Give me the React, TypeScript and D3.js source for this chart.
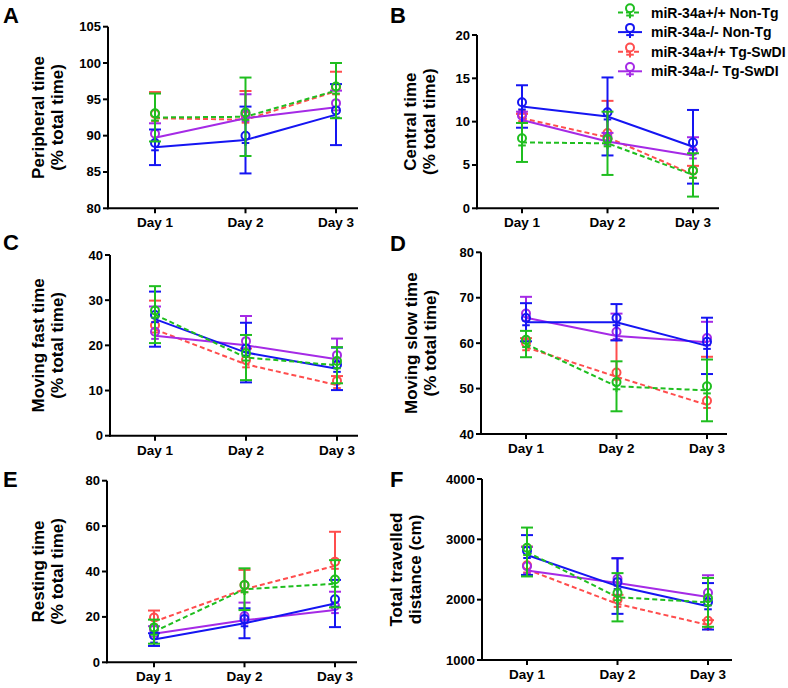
import * as d3 from 'd3';

// Open-field measures over three test days, four genotype groups (mean ± error)
const DAYS = ['Day 1', 'Day 2', 'Day 3'];
const GROUPS = ['miR-34a+/+ Non-Tg', 'miR-34a-/- Non-Tg', 'miR-34a+/+ Tg-SwDI', 'miR-34a-/- Tg-SwDI'];

// rows follow GROUPS, columns follow DAYS
const peripheralMean = [[92.5, 92.6, 96.2], [88.4, 89.4, 92.9], [92.4, 92.2, 96.1], [89.7, 92.4, 93.9]];
const peripheralErr = [[3.3, 5.4, 3.8], [2.45, 4.6, 4.2], [3.6, 3.95, 2.7], [2.0, 3.3, 2.3]];

const centralMean = [[7.6, 7.5, 3.85], [11.75, 10.6, 7.1], [10.4, 8.2, 3.9], [10.2, 7.7, 6.1]];
const centralErr = [[2.25, 3.65, 2.5], [2.45, 4.5, 4.25], [0.5, 4.2, 1.0], [0.95, 1.0, 2.1]];

const fastMean = [[26.8, 17.3, 15.6], [25.8, 18.4, 14.8], [23.5, 15.8, 11.2], [22.1, 20.0, 16.9]];
const fastErr = [[6.3, 5.0, 4.0], [6.1, 6.6, 4.7], [6.4, 3.5, 2.0], [6.5, 6.5, 4.6]];

const slowMean = [[59.8, 50.5, 49.6], [64.6, 64.6, 59.4], [59.1, 52.6, 46.4], [65.6, 61.6, 60.2]];
const slowErr = [[2.9, 5.5, 6.8], [4.2, 4.0, 6.2], [2.0, 8.1, 10.6], [4.6, 4.9, 4.5]];

const restMean = [[13.5, 32.2, 34.6], [10.0, 17.2, 25.9], [17.9, 32.2, 42.5], [12.6, 18.5, 23.0]];
const restErr = [[5.3, 9.2, 10.4], [2.8, 6.6, 10.4], [4.9, 8.5, 15.0], [3.3, 7.8, 8.1]];

const distMean = [[2790, 2040, 1955], [2740, 2225, 1890], [2500, 1930, 1580], [2485, 2278, 2045]];
const distErr = [[405, 400, 405], [330, 460, 385], [380, 150, 80], [390, 410, 360]];

const COLORS = ['#1fbe1f', '#1515f2', '#ff4d4d', '#a52ae6'];
const DASHED = [true, false, true, false];
// Tg-SwDI groups only show the upper half of the error bar
const BOTH_SIDES = [true, true, false, false];
// draw order: red, purple, blue, green on top
const DRAW_ORDER = [2, 3, 1, 0];

const FONT = '"Liberation Sans", Arial, Helvetica, sans-serif';

interface PanelCfg {
  letter: string;
  title: string[];
  mean: number[][];
  err: number[][];
  domain: [number, number];
  step: number;
  x0: number;
  x1: number;
  yTop: number;
  yBot: number;
  dayStart: number;
  dayEnd: number;
  titleX: number;
  letterX: number;
  letterY: number;
}

const panels: PanelCfg[] = [
  { letter: 'A', title: ['Peripheral time', '(% total time)'], mean: peripheralMean, err: peripheralErr,
    domain: [80, 105], step: 5, x0: 108, x1: 358, yTop: 26.7, yBot: 208.3, dayStart: 155, dayEnd: 336,
    titleX: 38, letterX: 3, letterY: 23 },
  { letter: 'B', title: ['Central time', '(% total time)'], mean: centralMean, err: centralErr,
    domain: [0, 20], step: 5, x0: 477, x1: 719, yTop: 35, yBot: 208.3, dayStart: 522, dayEnd: 693,
    titleX: 410, letterX: 390, letterY: 23 },
  { letter: 'C', title: ['Moving fast time', '(% total time)'], mean: fastMean, err: fastErr,
    domain: [0, 40], step: 10, x0: 110, x1: 358, yTop: 255, yBot: 435.7, dayStart: 155, dayEnd: 337,
    titleX: 38, letterX: 3, letterY: 250 },
  { letter: 'D', title: ['Moving slow time', '(% total time)'], mean: slowMean, err: slowErr,
    domain: [40, 80], step: 10, x0: 481, x1: 727, yTop: 252.3, yBot: 434, dayStart: 526, dayEnd: 707,
    titleX: 411, letterX: 390, letterY: 251 },
  { letter: 'E', title: ['Resting time', '(% total time)'], mean: restMean, err: restErr,
    domain: [0, 80], step: 20, x0: 107, x1: 357, yTop: 480.7, yBot: 662.3, dayStart: 154, dayEnd: 335,
    titleX: 38, letterX: 3, letterY: 487 },
  { letter: 'F', title: ['Total travelled', 'distance (cm)'], mean: distMean, err: distErr,
    domain: [1000, 4000], step: 1000, x0: 482, x1: 732, yTop: 479, yBot: 660, dayStart: 527, dayEnd: 708,
    titleX: 396, letterX: 390, letterY: 487 },
];

// "♀"-style marker: open circle sitting above the data point, cross below it
function Marker({ x, y, color }: { x: number; y: number; color: string }) {
  return (
    <g stroke={color} strokeWidth={2} fill="none">
      <circle cx={x} cy={y - 4.2} r={4} />
      <line x1={x} x2={x} y1={y - 0.2} y2={y + 5.8} />
      <line x1={x - 3.8} x2={x + 3.8} y1={y + 3} y2={y + 3} />
    </g>
  );
}

function Panel({ p }: { p: PanelCfg }) {
  const x = d3.scalePoint<string>().domain(DAYS).range([p.dayStart, p.dayEnd]);
  const y = d3.scaleLinear().domain(p.domain).range([p.yBot, p.yTop]);
  const ticks = d3.range(p.domain[0], p.domain[1] + p.step / 2, p.step);
  const line = d3
    .line<number>()
    .x((_, i) => x(DAYS[i]) as number)
    .y((v) => y(v));
  const cy = (p.yTop + p.yBot) / 2;
  const cap = 6;

  return (
    <g fontFamily={FONT} fontWeight="bold">
      <text x={p.letterX} y={p.letterY} fontSize={22}>{p.letter}</text>
      {p.title.map((t, i) => (
        <text
          key={t}
          transform={`translate(${p.titleX + i * 19},${cy}) rotate(-90)`}
          textAnchor="middle"
          dominantBaseline="central"
          fontSize={17}
        >
          {t}
        </text>
      ))}

      {/* axes */}
      <g stroke="#000" strokeWidth={2}>
        <line x1={p.x0} x2={p.x0} y1={p.yTop} y2={p.yBot + 1} />
        <line x1={p.x0 - 1} x2={p.x1} y1={p.yBot} y2={p.yBot} />
        {ticks.map((t) => (
          <line key={t} x1={p.x0 - 5} x2={p.x0} y1={y(t)} y2={y(t)} />
        ))}
        {DAYS.map((d) => (
          <line key={d} x1={x(d)} x2={x(d)} y1={p.yBot} y2={p.yBot + 5} />
        ))}
      </g>
      {ticks.map((t) => (
        <text key={t} x={p.x0 - 7} y={y(t)} textAnchor="end" dominantBaseline="central" fontSize={13}>
          {t}
        </text>
      ))}
      {DAYS.map((d) => (
        <text key={d} x={x(d)} y={p.yBot + 19} textAnchor="middle" fontSize={13.5}>
          {d}
        </text>
      ))}

      {/* series */}
      {DRAW_ORDER.map((g) => (
        <g key={g}>
          <path
            d={line(p.mean[g]) ?? ''}
            fill="none"
            stroke={COLORS[g]}
            strokeWidth={2}
            strokeDasharray={DASHED[g] ? '5,3' : undefined}
          />
          {p.mean[g].map((m, i) => {
            const cx = x(DAYS[i]) as number;
            const e = p.err[g][i];
            const hi = y(m + e);
            const lo = BOTH_SIDES[g] ? y(m - e) : y(m);
            return (
              <g key={i} stroke={COLORS[g]} strokeWidth={2}>
                <line x1={cx} x2={cx} y1={hi} y2={lo} />
                <line x1={cx - cap} x2={cx + cap} y1={hi} y2={hi} />
                {BOTH_SIDES[g] && <line x1={cx - cap} x2={cx + cap} y1={lo} y2={lo} />}
              </g>
            );
          })}
          {p.mean[g].map((m, i) => (
            <Marker key={i} x={x(DAYS[i]) as number} y={y(m)} color={COLORS[g]} />
          ))}
        </g>
      ))}
    </g>
  );
}

function Legend() {
  return (
    <g fontFamily={FONT} fontWeight="bold">
      {GROUPS.map((name, i) => {
        const ly = 12.5 + i * 19.6;
        return (
          <g key={name}>
            <line
              x1={618}
              x2={642}
              y1={ly}
              y2={ly}
              stroke={COLORS[i]}
              strokeWidth={2}
              strokeDasharray={DASHED[i] ? '5,3' : undefined}
            />
            <Marker x={630} y={ly} color={COLORS[i]} />
            <text x={651} y={ly} dominantBaseline="central" fontSize={14}>
              {name}
            </text>
          </g>
        );
      })}
    </g>
  );
}

export default function App() {
  return (
    <svg
      width={788}
      height={688}
      style={{ position: 'absolute', left: 0, top: 0, background: '#fff' }}
    >
      {panels.map((p) => (
        <Panel key={p.letter} p={p} />
      ))}
      <Legend />
    </svg>
  );
}
